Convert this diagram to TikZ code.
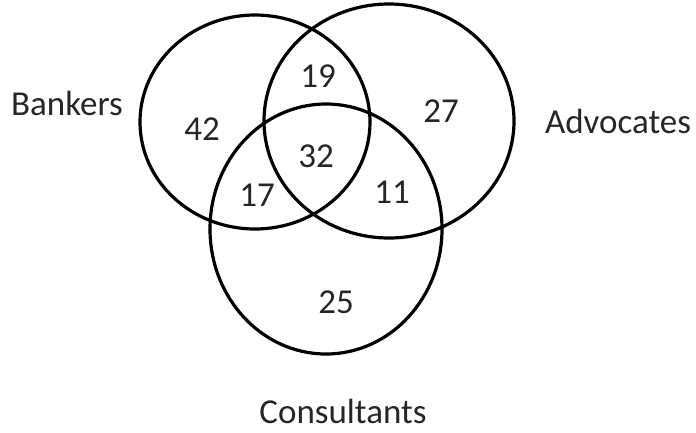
\documentclass[tikz,border=0pt]{standalone}
\usepackage{fontspec}
\setmainfont{Carlito}
\begin{document}
\begin{tikzpicture}[x=1pt,y=-1pt,
  ring/.style={line width=3.2pt,draw=black},
  lbl/.style={anchor=base,inner sep=0pt,font=\fontsize{35}{40}\selectfont,text=black!85}]
\useasboundingbox (0,0) rectangle (696,432);
\draw[ring] (255,122) ellipse [x radius=115, y radius=107];
\draw[ring] (389,121) ellipse [x radius=125, y radius=117];
\draw[ring] (326,229) ellipse [x radius=116, y radius=125];
\node[lbl] (bankers) at (67,115) {Bankers};
\node[lbl] (advocates) at (618,133) {Advocates};
\node[lbl] (consultants) at (343,423) {Consultants};
\node[lbl] (n19) at (318,87) {19};
\node[lbl] (n42) at (202,140) {42};
\node[lbl] (n27) at (441,122) {27};
\node[lbl] (n32) at (316,167) {32};
\node[lbl] (n17) at (257,206) {17};
\node[lbl] (n11) at (392,203) {11};
\node[lbl] (n25) at (336,313) {25};
\end{tikzpicture}
\end{document}
